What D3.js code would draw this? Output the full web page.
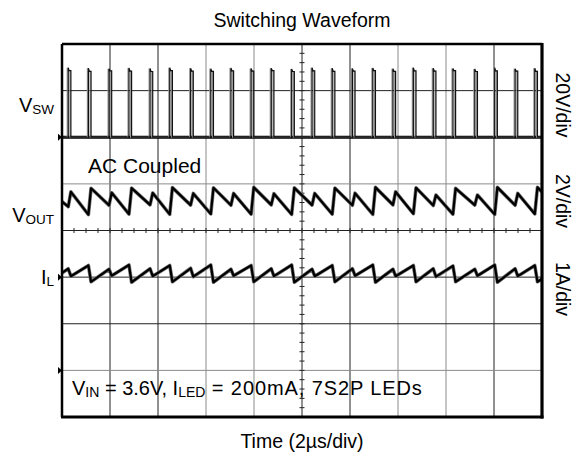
<!DOCTYPE html>
<html><head><meta charset="utf-8">
<script src="https://cdn.jsdelivr.net/npm/d3@7"></script>
<style>
body{margin:0;background:#fff}
svg{display:block}
text{font-family:"Liberation Sans",Arial,Helvetica,sans-serif;fill:#000}
</style>
</head><body>
<svg id="chart" width="585" height="465"></svg>
<script>
// ---------------- data ----------------
const chartTitle = "Switching Waveform";
const axisTitle = "Time (2µs/div)";
const timeDomain = [0, 20];           // µs  (10 div x 2 µs)
const divDomain = [-4, 4];            // vertical divisions
const channelNames = ["SW", "OUT", "L"];
const channelBase = ["V", "V", "I"];
const channelUnitsPerDiv = [20, 2, 1]; // V/div, V/div, A/div
const channelOffsetDiv = [2.0, 0.66, -3.0];
const scaleLabels = ["20V/div", "2V/div", "1A/div"];
const markerDivs = [2.0, -1.0, -3.0];
const noteAC = "AC Coupled";
const conditionParts = [["V", ""], ["IN", "sub"], [" = 3.6V, I", ""], ["LED", "sub"], [" = 200mA, 7S2P LEDs", "wide"]];

// switching node: rising edge times (µs), pulse width, peak/plateau voltages
const swRise = [0.26, 1.10, 1.96, 2.79, 3.67, 4.49, 5.36, 6.20, 7.04, 7.88, 8.72, 9.57,
                10.42, 11.26, 12.10, 12.95, 13.79, 14.64, 15.47, 16.29, 17.20, 18.03, 18.88, 19.70];
const swWidth = 0.11;
const swPeak = [29.8, 29.6, 29.4, 29.7, 29.5, 29.8, 29.6, 29.4, 29.7, 29.5, 29.6, 29.3,
                29.8, 29.6, 29.5, 29.7, 29.4, 29.8, 29.6, 29.5, 29.3, 29.8, 29.4, 29.6];
const swHigh = [28.6, 28.3, 28.5, 28.4, 28.2, 28.6, 28.4, 28.3, 28.5, 28.4, 28.6, 28.2,
                28.5, 28.3, 28.4, 28.6, 28.3, 28.5, 28.4, 28.6, 28.2, 28.5, 28.4, 28.3];

// output ripple (AC coupled, V): value at t=0, peak after each pulse, value just before each pulse (+ end)
const voutStart = -0.08;
const voutPeak = [0.34, 0.49, 0.30, 0.50, 0.29, 0.52, 0.27, 0.51, 0.27, 0.53, 0.26, 0.51,
                  0.27, 0.50, 0.28, 0.53, 0.34, 0.51, 0.20, 0.49, 0.20, 0.53, 0.27, 0.53];
const voutTrough = [-0.30, -0.64, -0.24, -0.62, -0.22, -0.63, -0.23, -0.61, -0.24, -0.62, -0.22, -0.63,
                    -0.23, -0.62, -0.24, -0.63, -0.22, -0.60, -0.25, -0.62, -0.23, -0.63, -0.24, -0.61, 0.33];

// inductor current (A): value at t=0, value before each turn-off, value after, end value
const ilStart = 2.09;
const ilPeak = [2.18, 2.25, 2.17, 2.26, 2.18, 2.25, 2.19, 2.26, 2.17, 2.25, 2.18, 2.26,
                2.17, 2.25, 2.18, 2.26, 2.17, 2.25, 2.18, 2.24, 2.17, 2.26, 2.18, 2.25];
const ilValley = [2.02, 1.90, 2.03, 1.89, 2.02, 1.90, 2.01, 1.89, 2.03, 1.90, 2.02, 1.89,
                  2.02, 1.90, 2.03, 1.89, 2.02, 1.90, 2.01, 1.90, 2.03, 1.89, 2.02, 1.90];
const ilEnd = 1.96;

// ---------------- drawing ----------------
const svg = d3.select("#chart");
const L = 62, R = 542, T = 44, B = 417;
const x = d3.scaleLinear().domain(timeDomain).range([L, R]);
const yDiv = d3.scaleLinear().domain(divDomain).range([B, T]);
const chY = ch => v => yDiv(v / channelUnitsPerDiv[ch] + channelOffsetDiv[ch]);

// grid
const g = svg.append("g");
const vDark = new Set([1, 2, 5, 6, 9]);
d3.range(1, 10).forEach(k => {
  const t = k * 2;
  g.append("line").attr("x1", x(t)).attr("x2", x(t)).attr("y1", T).attr("y2", B)
    .attr("stroke", vDark.has(k) ? "#222" : "#8a8a8a").attr("stroke-width", 1);
});
const hDark = new Set([-3, 0, 1, 2]);
d3.range(-3, 4).forEach(k => {
  g.append("line").attr("x1", L).attr("x2", R).attr("y1", yDiv(k)).attr("y2", yDiv(k))
    .attr("stroke", hDark.has(-k) ? "#222" : "#8a8a8a").attr("stroke-width", 1);
});
// center minor ticks
d3.range(0, 20.001, 0.5).forEach(t => {
  g.append("line").attr("x1", x(t)).attr("x2", x(t)).attr("y1", yDiv(0) - 2.5).attr("y2", yDiv(0) + 2.5)
    .attr("stroke", "#222").attr("stroke-width", 1);
});
d3.range(-4, 4.001, 0.2).forEach(d => {
  g.append("line").attr("x1", x(10) - 2.5).attr("x2", x(10) + 2.5).attr("y1", yDiv(d)).attr("y2", yDiv(d))
    .attr("stroke", "#222").attr("stroke-width", 1);
});

// build traces
const swPts = [[0, 0]];
swRise.forEach((t, i) => {
  swPts.push([t, 0], [t, swPeak[i]], [t + swWidth * 0.35, swHigh[i]], [t + swWidth, swHigh[i]], [t + swWidth, 0]);
});
swPts.push([20, 0]);

const voPts = [[0, voutStart]];
swRise.forEach((t, i) => {
  voPts.push([t, voutTrough[i]], [t + swWidth, voutPeak[i]]);
});
voPts.push([20, voutTrough[voutTrough.length - 1]]);

const ilPts = [[0, ilStart]];
swRise.forEach((t, i) => {
  ilPts.push([t, ilPeak[i]], [t + swWidth, ilValley[i]]);
});
ilPts.push([20, ilEnd]);

const lineFor = ch => d3.line().x(d => x(d[0])).y(d => chY(ch)(d[1]));

const traces = svg.append("g");
// VSW baseline band
traces.append("line").attr("x1", x(0)).attr("x2", x(20)).attr("y1", chY(0)(0)).attr("y2", chY(0)(0))
  .attr("stroke", "#000").attr("stroke-width", 3);
traces.append("path").datum(swPts).attr("d", lineFor(0)).attr("fill", "none")
  .attr("stroke", "#9a9a9a").attr("stroke-width", 1.2).attr("transform", "translate(-1,0)");
traces.append("path").datum(swPts).attr("d", lineFor(0)).attr("fill", "none")
  .attr("stroke", "#111").attr("stroke-width", 1.2);

[[voPts, 1], [ilPts, 2]].forEach(([pts, ch]) => {
  traces.append("path").datum(pts).attr("d", lineFor(ch)).attr("fill", "none")
    .attr("stroke", "#777").attr("stroke-width", 3.6).attr("stroke-linejoin", "round");
  traces.append("path").datum(pts).attr("d", lineFor(ch)).attr("fill", "none")
    .attr("stroke", "#000").attr("stroke-width", 2.2).attr("stroke-linejoin", "round");
});

// frame
svg.append("line").attr("x1", L).attr("x2", R).attr("y1", T).attr("y2", T).attr("stroke", "#000").attr("stroke-width", 2.5);
svg.append("line").attr("x1", L - 1).attr("x2", R + 1.5).attr("y1", B).attr("y2", B).attr("stroke", "#000").attr("stroke-width", 3);
svg.append("line").attr("x1", L).attr("x2", L).attr("y1", T).attr("y2", B).attr("stroke", "#000").attr("stroke-width", 2.5);
svg.append("line").attr("x1", R).attr("x2", R).attr("y1", T - 1).attr("y2", B + 1.5).attr("stroke", "#000").attr("stroke-width", 3.2);

// channel markers
markerDivs.forEach(d => {
  const yy = yDiv(d);
  svg.append("path").attr("d", `M${L - 4},${yy - 3.5}L${L},${yy}L${L - 4},${yy + 3.5}Z`).attr("fill", "#000");
});

// texts
svg.append("text").attr("x", 302).attr("y", 27).attr("text-anchor", "middle")
  .attr("font-size", 19.5).text(chartTitle);
svg.append("text").attr("x", 302).attr("y", 448).attr("text-anchor", "middle")
  .attr("font-size", 19.5).text(axisTitle);

const labelY = [112, 222, 284];
channelNames.forEach((n, i) => {
  const t = svg.append("text").attr("x", 54).attr("y", labelY[i]).attr("text-anchor", "end").attr("font-size", 20);
  t.append("tspan").text(channelBase[i]);
  t.append("tspan").attr("font-size", 13.5).attr("dy", 2).text(n);
});

const rightY = [105, 201, 289];
scaleLabels.forEach((s, i) => {
  svg.append("text").attr("transform", `translate(556,${rightY[i]}) rotate(90)`)
    .attr("text-anchor", "middle").attr("font-size", 19.5).text(s);
});

svg.append("text").attr("x", 88).attr("y", 173).attr("font-size", 21).text(noteAC);

const cond = svg.append("text").attr("x", 72).attr("y", 395).attr("font-size", 20);
let shifted = false;
conditionParts.forEach(([s, kind]) => {
  const ts = cond.append("tspan").text(s);
  if (kind === "sub") { ts.attr("font-size", 14).attr("dy", shifted ? 0 : 2); shifted = true; }
  else if (shifted) { ts.attr("dy", -2); shifted = false; }
  if (kind === "wide") ts.attr("letter-spacing", 0.9);
});
</script>
</body></html>
